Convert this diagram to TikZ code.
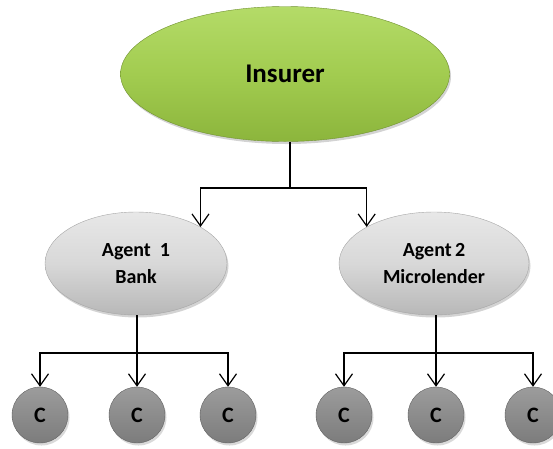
\documentclass[tikz,border=0pt]{standalone}
\usepackage{fontspec}
\setmainfont{Carlito}
\usetikzlibrary{positioning, arrows.meta, shapes.geometric, shadows}

\definecolor{insgreen}{HTML}{A2CC50}
\definecolor{insgreentop}{HTML}{B4DB68}
\definecolor{insgreenbot}{HTML}{8CB53C}
\definecolor{agentgray}{HTML}{D8D8D8}
\definecolor{custgray}{HTML}{8C8C8C}
\definecolor{custgraytop}{HTML}{9C9C9C}
\definecolor{custgraybot}{HTML}{7C7C7C}

\begin{document}
\begin{tikzpicture}[
  x=1pt, y=-1pt,
  every node/.style={font=\bfseries, text=black},
  arr/.style={-{Straight Barb[length=12pt, width=17pt, line width=1.2pt]}, line width=1.2pt},
  link/.style={line width=1.2pt},
  insurer/.style={ellipse, inner sep=0pt, minimum width=329pt, minimum height=135pt,
    top color=insgreentop, bottom color=insgreenbot, middle color=insgreen,
    draw=insgreenbot!80!black, line width=0.4pt, font=\bfseries\fontsize{27}{30}\selectfont,
    drop shadow={opacity=0.35, shadow xshift=1.5pt, shadow yshift=-2.5pt}},
  agent/.style={ellipse, inner sep=0pt, minimum height=103pt, align=center,
    top color=agentgray!60!white, bottom color=agentgray!85!black, middle color=agentgray,
    draw=gray!70, line width=0.4pt, font=\bfseries\fontsize{20}{27}\selectfont,
    drop shadow={opacity=0.35, shadow xshift=1.5pt, shadow yshift=-2.5pt}},
  cust/.style={circle, inner sep=0pt, minimum size=56pt,
    top color=custgraytop, bottom color=custgraybot, middle color=custgray,
    draw=custgraybot!80!black, line width=0.4pt, font=\bfseries\fontsize{22}{24}\selectfont,
    drop shadow={opacity=0.3, shadow xshift=1.5pt, shadow yshift=-2.5pt}}
]
  \useasboundingbox (0,0) rectangle (553,448);

  % top level
  \node[insurer] (ins) at (285,74) {Insurer};
  \coordinate (split) at (290,188);

  % agents
  \node[agent, minimum width=182pt] (a1) at (136,263.5) {Agent\ \ 1\\Bank};
  \node[agent, minimum width=190pt] (a2) at (434,263.5) {Agent\,2\\Microlender};

  \draw[link] (ins.south -| split) -- (split);
  \draw[arr] (split) -| (a1.north east);
  \draw[arr] (split) -| (a2.north west);

  % customers
  \coordinate (j1) at (137,353);
  \coordinate (j2) at (436,353);
  \node[cust] (c11) at (40,415)  {C};
  \node[cust] (c12) at (137,415) {C};
  \node[cust] (c13) at (228,415) {C};
  \node[cust] (c21) at (344,415) {C};
  \node[cust] (c22) at (436,415) {C};
  \node[cust] (c23) at (533,415) {C};

  \draw[link] (a1.south -| j1) -- (j1);
  \draw[link] (a2.south -| j2) -- (j2);
  \foreach \c in {c11, c12, c13}
    \draw[arr] (j1) -| (\c);
  \foreach \c in {c21, c22, c23}
    \draw[arr] (j2) -| (\c);
\end{tikzpicture}
\end{document}
